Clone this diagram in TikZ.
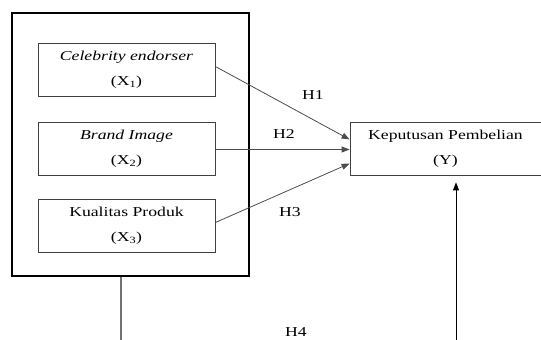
\documentclass[tikz,border=0pt]{standalone}
\usepackage{fontspec}
\setmainfont{Liberation Serif}[FakeStretch=1.3]
\usetikzlibrary{arrows.meta,positioning,calc}

\begin{document}
\begin{tikzpicture}[x=1pt, y=1pt,
    every node/.style={font=\fontsize{13.6}{25}\selectfont},
    var/.style={draw=black!75, line width=0.8pt, minimum width=177pt, minimum height=53pt, align=center, inner sep=0pt},
    hyp/.style={draw=black!70, line width=0.8pt, -{Triangle[length=8pt,width=6pt]}}]
    \useasboundingbox (0,0) rectangle (541,340);
    % frame round the three independent variables
    \node[draw, line width=1.6pt, minimum width=237pt, minimum height=263pt] (grp) at (130.5,195.5) {};
    \node[var] (x1) at (126.5,270.5) {\textit{Celebrity endorser}\\(X\textsubscript{1})};
    \node[var] (x2) at (126.5,191.5) {\textit{Brand Image}\\(X\textsubscript{2})};
    \node[var] (x3) at (126.5,114.5) {Kualitas Produk\\(X\textsubscript{3})};
    \node[var, minimum width=191pt] (y) at (445.5,191.5) {Keputusan Pembelian\\(Y)};
    % partial effects
    \draw[hyp] ($(x1.east)+(0,3)$) -- ($(y.west)+(0,9)$);
    \draw[hyp] ($(x2.east)+(0,-1)$) -- ($(y.west)+(0,-1)$);
    \draw[hyp] ($(x3.east)+(0,3)$) -- ($(y.west)+(0,-15)$);
    \node (h1) at (313,245) {H1};
    \node (h2) at (284,206) {H2};
    \node (h3) at (290,128) {H3};
    % simultaneous effect
    \coordinate (lo) at (121,0);
    \coordinate (ro) at (456,0);
    \draw[black!55, line width=1.4pt] (grp.south -| lo) -- (lo);
    \draw[line width=1pt, -{Triangle[length=8pt,width=6pt]}] (ro) -- ($(y.south -| ro)+(0,-7)$);
    \node (h4) at (296,8) {H4};
\end{tikzpicture}
\end{document}
